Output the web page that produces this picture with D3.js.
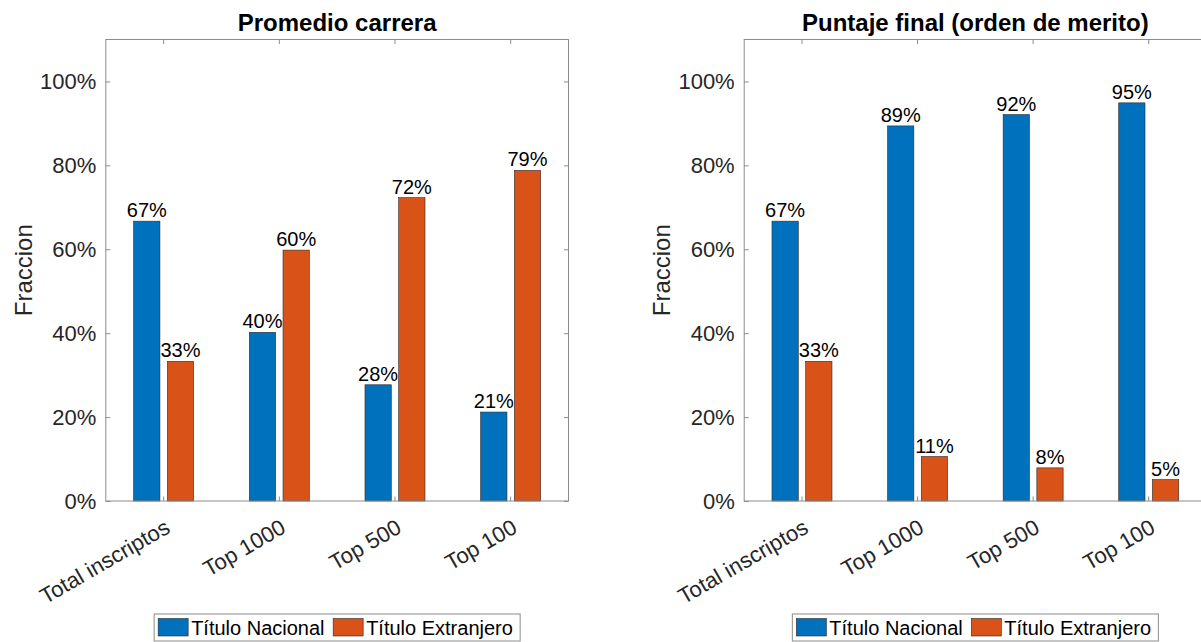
<!DOCTYPE html>
<html>
<head>
<meta charset="utf-8">
<script src="https://cdn.jsdelivr.net/npm/d3@7"></script>
<style>
  html, body { margin: 0; padding: 0; background: #fff; }
  svg { display: block; font-family: "Liberation Sans", Arial, Helvetica, sans-serif; }
</style>
</head>
<body>
<svg id="chart" width="1201" height="642"></svg>
<script>
// ---- data ----
const categories = ["Total inscriptos", "Top 1000", "Top 500", "Top 100"];
const seriesNames = ["Título Nacional", "Título Extranjero"];
const seriesColors = ["#0072BD", "#D95319"];
const yTickValues = [0, 0.2, 0.4, 0.6, 0.8, 1.0];
const yMax = 1.1;

const panelTitles = ["Promedio carrera", "Puntaje final (orden de merito)"];
const yLabel = "Fraccion";

const promedioNacional   = [0.667, 0.402, 0.277, 0.212];
const promedioExtranjero = [0.333, 0.598, 0.723, 0.788];
const puntajeNacional    = [0.667, 0.894, 0.921, 0.949];
const puntajeExtranjero  = [0.333, 0.106, 0.079, 0.051];

const panelData = [
  [promedioNacional, promedioExtranjero],
  [puntajeNacional, puntajeExtranjero]
];

// ---- layout ----
const svg = d3.select("#chart");
const panels = [
  { left: 105.8, right: 568.5 },
  { left: 744.2, right: 1206.5 }
];
const plotTop = 39.5, plotBottom = 501;
const axisColor = "#8c8c8c";
const textColor = "#262626";
const tickLen = 4.5;

panels.forEach((p, pi) => {
  const series = panelData[pi];
  const g = svg.append("g");

  const y = d3.scaleLinear().domain([0, yMax]).range([plotBottom, plotTop]);
  const x0 = d3.scaleBand().domain(categories).range([p.left, p.right]).padding(0);
  const x1 = d3.scaleBand().domain(seriesNames).range([-30, 30]).paddingInner(0.22);

  // bars
  seriesNames.forEach((s, si) => {
    const rows = categories.map((c, ci) => ({ c, v: series[si][ci] }));
    g.selectAll(null)
      .data(rows)
      .enter().append("rect")
      .attr("x", d => x0(d.c) + x0.bandwidth() / 2 + x1(s))
      .attr("y", d => y(d.v))
      .attr("width", x1.bandwidth())
      .attr("height", d => y(0) - y(d.v))
      .attr("fill", seriesColors[si])
      .attr("stroke", "#2a2a2a")
      .attr("stroke-width", 0.6);

    g.selectAll(null)
      .data(rows)
      .enter().append("text")
      .attr("x", d => x0(d.c) + x0.bandwidth() / 2 + x1(s) + x1.bandwidth() / 2)
      .attr("y", d => y(d.v) - 4)
      .attr("text-anchor", "middle")
      .attr("font-size", 20)
      .attr("fill", "#000")
      .text(d => Math.round(d.v * 100) + "%");
  });

  // box
  g.append("rect")
    .attr("x", p.left).attr("y", plotTop)
    .attr("width", p.right - p.left).attr("height", plotBottom - plotTop)
    .attr("fill", "none").attr("stroke", axisColor).attr("stroke-width", 1);

  // left axis with labels
  const ax = g.append("g").attr("transform", `translate(${p.left},0)`)
    .call(d3.axisLeft(y).tickValues(yTickValues).tickFormat(d3.format(".0%"))
      .tickSizeInner(-tickLen).tickSizeOuter(0).tickPadding(9.5));
  ax.select(".domain").remove();
  ax.selectAll(".tick line").attr("stroke", axisColor);
  ax.selectAll(".tick text").attr("font-size", 22).attr("fill", textColor);
  ax.attr("font-family", null).attr("font-size", null);

  // right axis ticks
  const ar = g.append("g").attr("transform", `translate(${p.right},0)`)
    .call(d3.axisRight(y).tickValues(yTickValues).tickFormat("")
      .tickSizeInner(-tickLen).tickSizeOuter(0));
  ar.select(".domain").remove();
  ar.selectAll(".tick line").attr("stroke", axisColor);

  // top axis ticks
  const at = g.append("g").attr("transform", `translate(0,${plotTop})`)
    .call(d3.axisTop(x0).tickFormat("").tickSizeInner(-tickLen).tickSizeOuter(0));
  at.select(".domain").remove();
  at.selectAll(".tick line").attr("stroke", axisColor);

  // bottom axis ticks + rotated labels
  const ab = g.append("g").attr("transform", `translate(0,${plotBottom})`)
    .call(d3.axisBottom(x0).tickSizeInner(-tickLen).tickSizeOuter(0));
  ab.select(".domain").remove();
  ab.attr("font-family", null).attr("font-size", null);
  ab.selectAll(".tick line").attr("stroke", axisColor);
  ab.selectAll(".tick text")
    .attr("font-size", 22).attr("fill", textColor)
    .attr("text-anchor", "end")
    .attr("x", null).attr("y", null).attr("dy", "0.35em")
    .attr("transform", "translate(4,24) rotate(-30)");

  // title
  g.append("text")
    .attr("x", (p.left + p.right) / 2).attr("y", 31)
    .attr("text-anchor", "middle")
    .attr("font-size", 24).attr("font-weight", "bold").attr("fill", "#000")
    .text(panelTitles[pi]);

  // y label
  g.append("text")
    .attr("transform", `translate(${p.left - 74},${(plotTop + plotBottom) / 2}) rotate(-90)`)
    .attr("text-anchor", "middle")
    .attr("font-size", 24).attr("fill", textColor)
    .text(yLabel);

  // legend
  const cx = (p.left + p.right) / 2;
  const lw = 366, lh = 27;
  const lg = g.append("g").attr("transform", `translate(${cx - lw / 2},614)`);
  lg.append("rect").attr("width", lw).attr("height", lh)
    .attr("fill", "#fff").attr("stroke", axisColor).attr("stroke-width", 1);
  const itemX = [4, 179];
  seriesNames.forEach((s, si) => {
    lg.append("rect")
      .attr("x", itemX[si]).attr("y", 4.5)
      .attr("width", 30).attr("height", 17.5)
      .attr("fill", seriesColors[si]).attr("stroke", "#2a2a2a").attr("stroke-width", 0.6);
    lg.append("text")
      .attr("x", itemX[si] + 33).attr("y", 14).attr("dy", "0.35em")
      .attr("font-size", 20).attr("fill", "#000")
      .text(s);
  });
});
</script>
</body>
</html>
